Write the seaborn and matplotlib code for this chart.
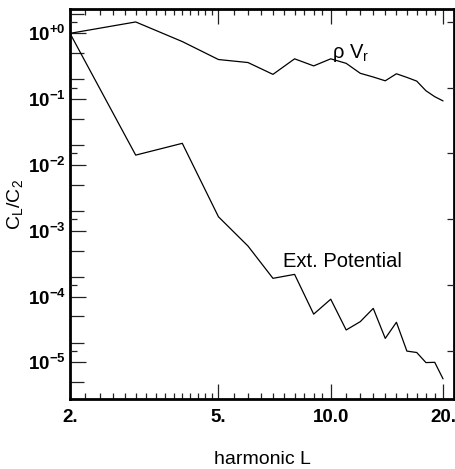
import numpy as np
import pandas as pd
import matplotlib
matplotlib.use("Agg")
import matplotlib.pyplot as plt
import matplotlib.ticker as mticker
import seaborn as sns

# ---- data ----
harmonic_L = [2, 3, 4, 5, 6, 7, 8, 9, 10, 11, 12, 13, 14, 15, 16, 17, 18, 19, 20]
rho_vr = [1.0, 1.49, 0.75, 0.40, 0.36, 0.238, 0.41, 0.32, 0.41, 0.35, 0.247,
          0.217, 0.19, 0.243, 0.214, 0.188, 0.134, 0.109, 0.094]
ext_potential = [1.0, 0.0141, 0.0213, 1.63e-3, 5.85e-4, 1.89e-4, 2.17e-4, 5.4e-5,
                 9.1e-5, 3.1e-5, 4.15e-5, 6.6e-5, 2.31e-5, 4.06e-5, 1.48e-5,
                 1.41e-5, 9.9e-6, 1.0e-5, 5.6e-6]

x_tick_values = [2, 5, 10, 20]
x_tick_labels = ["2.", "5.", "10.0", "20."]
y_tick_values = [1e0, 1e-1, 1e-2, 1e-3, 1e-4, 1e-5]
y_tick_labels = [r"$\mathbf{10^{+0}}$", r"$\mathbf{10^{-1}}$", r"$\mathbf{10^{-2}}$",
                 r"$\mathbf{10^{-3}}$", r"$\mathbf{10^{-4}}$", r"$\mathbf{10^{-5}}$"]

series_names = [r"$\mathrm{\rho\ V_r}$", "Ext. Potential"]
label_pos = [(10.1, 0.51), (7.45, 3.45e-4)]

df = pd.DataFrame({
    "L": harmonic_L * 2,
    "value": rho_vr + ext_potential,
    "series": ["rho"] * len(harmonic_L) + ["ext"] * len(harmonic_L),
})

sns.set_theme(style="ticks")
plt.rcParams["font.family"] = ["Liberation Sans", "DejaVu Sans"]
plt.rcParams["mathtext.fontset"] = "custom"
plt.rcParams["mathtext.rm"] = "Liberation Sans"
plt.rcParams["mathtext.it"] = "Liberation Sans:italic"
plt.rcParams["mathtext.bf"] = "Liberation Sans:bold"
plt.rcParams["mathtext.sf"] = "Liberation Sans"
plt.rcParams["text.color"] = "black"
plt.rcParams["axes.labelcolor"] = "black"
plt.rcParams["xtick.labelcolor"] = "black"
plt.rcParams["ytick.labelcolor"] = "black"

fig = plt.figure(figsize=(4.56, 4.69), dpi=100)
ax = fig.add_axes([70 / 456, 1 - 399.3 / 469, (454 - 70) / 456, (399.3 - 9.3) / 469])

sns.lineplot(data=df, x="L", y="value", units="series", estimator=None,
             color="black", linewidth=0.9, ax=ax, legend=False)

ax.set_xscale("log")
ax.set_yscale("log")
ax.set_xlim(2, 21.4)
ax.set_ylim(2.74e-6, 2.32)

# x ticks
ax.xaxis.set_major_locator(mticker.FixedLocator(x_tick_values))
ax.xaxis.set_major_formatter(mticker.FixedFormatter(x_tick_labels))
minor_x = list(np.arange(2.2, 5.0, 0.2)) + list(np.arange(5.5, 10.0, 0.5)) + list(range(11, 20))
ax.xaxis.set_minor_locator(mticker.FixedLocator(minor_x))
ax.xaxis.set_minor_formatter(mticker.NullFormatter())

# y ticks
ax.yaxis.set_major_locator(mticker.FixedLocator(y_tick_values))
ax.yaxis.set_major_formatter(mticker.FixedFormatter(y_tick_labels))
ax.yaxis.set_minor_locator(mticker.LogLocator(base=10, subs=(2.0, 5.0), numticks=20))
ax.yaxis.set_minor_formatter(mticker.NullFormatter())

ax.tick_params(axis="both", which="both", direction="in", top=True, right=True,
               color="#222222", width=0.9, labelcolor="black")
ax.tick_params(axis="x", which="major", length=11, pad=7, labelsize=13.5)
ax.tick_params(axis="x", which="minor", length=4.3)
ax.tick_params(axis="y", which="major", length=11.5, pad=3, labelsize=13.5)
ax.tick_params(axis="y", which="minor", length=10)
for lab in ax.get_xticklabels():
    lab.set_fontweight("bold")

# extra short ticks at 1.5 x 10^n
ax2 = ax.twinx()
ax2.set_yscale("log")
ax2.set_ylim(ax.get_ylim())
ax2.yaxis.set_major_locator(mticker.LogLocator(base=10, subs=(1.5,), numticks=20))
ax2.yaxis.set_major_formatter(mticker.NullFormatter())
ax2.yaxis.set_minor_locator(mticker.NullLocator())
ax2.tick_params(axis="y", which="both", direction="in", left=True, right=True,
                labelleft=False, labelright=False, length=5, width=0.9, color="#222222")
ax2.tick_params(axis="x", which="both", bottom=False, top=False)
for s in ax2.spines.values():
    s.set_visible(False)

for s in ax.spines.values():
    s.set_visible(True)
    s.set_linewidth(2.0)
    s.set_color("black")

ax.set_xlabel("harmonic L", fontsize=14, labelpad=18, color="black")
ax.set_ylabel(r"$\mathrm{C_L/C_2}$", fontsize=14, labelpad=2, color="black")

for name, (tx, ty) in zip(series_names, label_pos):
    ax.text(tx, ty, name, fontsize=14.5, ha="left", va="center", color="black")

fig.savefig("out.png", dpi=100)
